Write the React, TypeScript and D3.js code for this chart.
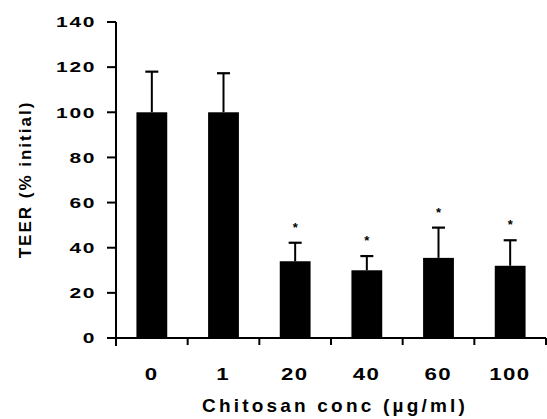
import React from 'react';
import * as d3 from 'd3';

const categories = ['0', '1', '20', '40', '60', '100'];
const means = [100, 100, 34, 30, 35.5, 32];
const errors = [18, 17.3, 8.2, 6.3, 13.4, 11.3];
const significant = [false, false, true, true, true, true];
const yTicks = [0, 20, 40, 60, 80, 100, 120, 140];

const width = 547;
const height = 419;
const margin = { top: 22, right: 1, bottom: 81, left: 116 };

const App = () => {
  const x = d3.scaleBand<string>()
    .domain(categories)
    .range([margin.left, width - margin.right])
    .paddingInner(0)
    .paddingOuter(0);

  const y = d3.scaleLinear()
    .domain([0, 140])
    .range([height - margin.bottom, margin.top]);

  const barW = x.bandwidth() * 0.43;
  const capW = 13;
  const y0 = y(0);
  const font = 'Arial, "Liberation Sans", Helvetica, sans-serif';

  // tick digits in the original are set wide
  const ySx = 1.4, yLs = 1.2;
  const xSx = 1.35, xLs = 1;

  // boundaries between categories get the x ticks
  const boundaries = categories.map(c => x(c)!).concat([x.range()[1]]);

  return (
    <div style={{ position: 'absolute', left: 0, top: 0 }}>
      <svg width={width} height={height} style={{ display: 'block', background: '#fff' }}>
        {/* bars */}
        {categories.map((c, i) => {
          const cx = x(c)! + x.bandwidth() / 2;
          const top = y(means[i]);
          const errTop = y(means[i] + errors[i]);
          return (
            <g key={c}>
              <rect x={cx - barW / 2} y={top} width={barW} height={y0 - top} fill="#000" />
              <line x1={cx} x2={cx} y1={top} y2={errTop} stroke="#000" strokeWidth={2} />
              <line x1={cx - capW / 2} x2={cx + capW / 2} y1={errTop} y2={errTop} stroke="#000" strokeWidth={2.2} />
              {significant[i] && (
                <text x={cx} y={errTop - 11} textAnchor="middle" fontFamily={font}
                  fontWeight="bold" fontSize={13}>*</text>
              )}
            </g>
          );
        })}

        {/* y axis */}
        <line x1={margin.left} x2={margin.left} y1={y(140)} y2={y0 + 8} stroke="#000" strokeWidth={2} />
        {yTicks.map(t => (
          <g key={t}>
            <line x1={margin.left - 9} x2={margin.left} y1={y(t)} y2={y(t)} stroke="#000" strokeWidth={2} />
            <text transform={`translate(${margin.left - 21.5 + yLs * ySx},${y(t) + 5.3}) scale(${ySx},1)`}
              textAnchor="end" fontFamily={font} fontWeight="bold" fontSize={15}
              letterSpacing={yLs}>{t}</text>
          </g>
        ))}

        {/* x axis */}
        <line x1={margin.left - 9} x2={width - margin.right} y1={y0} y2={y0} stroke="#000" strokeWidth={2} />
        {boundaries.map((b, i) => (
          <line key={i} x1={b} x2={b} y1={y0} y2={y0 + 7} stroke="#000" strokeWidth={2} />
        ))}
        {categories.map(c => (
          <text key={c}
            transform={`translate(${x(c)! + x.bandwidth() / 2 + (xLs * xSx) / 2 - 1},379.5) scale(${xSx},1)`}
            textAnchor="middle" fontFamily={font} fontWeight="bold" fontSize={16.5}
            letterSpacing={xLs}>{c}</text>
        ))}

        {/* axis titles */}
        <text x={335} y={412} textAnchor="middle" fontFamily={font} fontWeight="bold"
          fontSize={19} letterSpacing={3.2}>Chitosan conc (µg/ml)</text>
        <text transform={`translate(31,179.5) rotate(-90)`} textAnchor="middle" fontFamily={font}
          fontWeight="bold" fontSize={17} letterSpacing={2}>TEER (% initial)</text>
      </svg>
    </div>
  );
};

export default App;
